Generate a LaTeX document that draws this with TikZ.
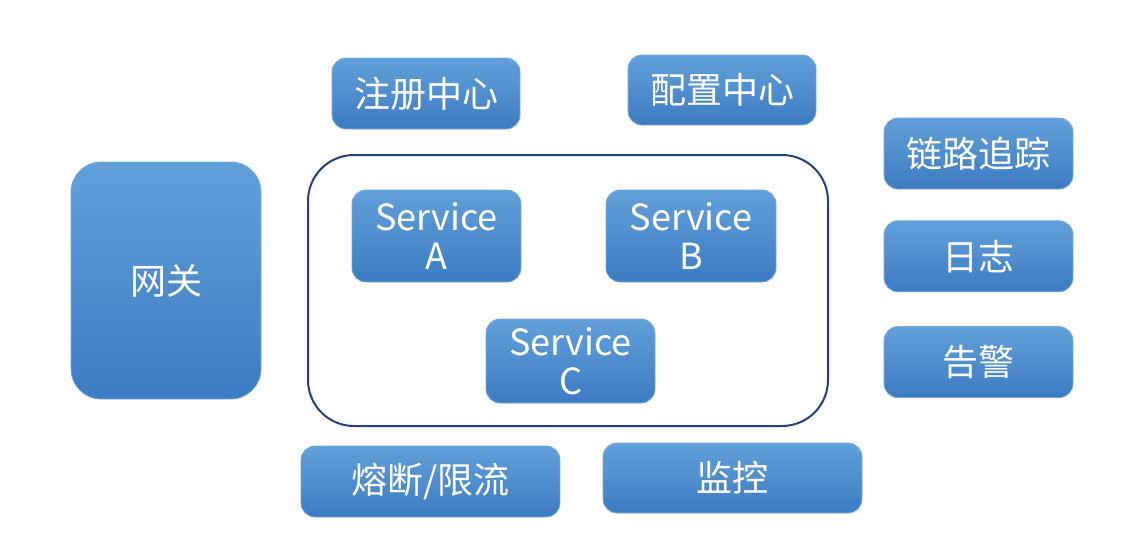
\documentclass[tikz,border=0pt]{standalone}
\usepackage{fontspec}
\setmainfont{Noto Sans CJK SC}
\usepackage{tikz}
\usetikzlibrary{positioning}
\definecolor{MSTop}{HTML}{62A0DA}
\definecolor{MSBottom}{HTML}{3D7BC2}
\definecolor{MSEdge}{HTML}{78A8DC}
\definecolor{MSFrame}{HTML}{233F80}

\begin{document}
\begin{tikzpicture}[
  x=1pt, y=-1pt,
  box/.style={draw=MSEdge, line width=0.8pt, top color=MSTop, bottom color=MSBottom, rounded corners=14pt, inner sep=0pt, align=center, text=white, font=\fontsize{36}{39}\selectfont},
  frame/.style={draw=MSFrame, line width=2pt, rounded corners=46pt, inner sep=0pt}
]
\useasboundingbox (0,0) rectangle (1131,539);
\node[box, rounded corners=30pt, minimum width=190pt, minimum height=237pt] (gw) at (166,280.5) {网关};
\node[box, minimum width=188pt, minimum height=71pt] (reg) at (426,93.5) {注册中心};
\node[box, minimum width=188pt, minimum height=70pt] (cfg) at (722,90) {配置中心};
\node[frame, minimum width=520pt, minimum height=271pt] (svc) at (568,290.5) {};
\node[box, minimum width=169pt, minimum height=92pt] (svcA) at (436.5,236) {Service\\A};
\node[box, minimum width=170pt, minimum height=92pt] (svcB) at (691,236) {Service\\B};
\node[box, minimum width=169pt, minimum height=84pt] (svcC) at (570.5,361) {Service\\C};
\node[box, minimum width=189pt, minimum height=71pt] (trace) at (978.5,153.5) {链路追踪};
\node[box, minimum width=189pt, minimum height=71pt, below=31pt of trace] (log) {日志};
\node[box, minimum width=189pt, minimum height=71pt, below=34pt of log] (alarm) {告警};
\node[box, minimum width=259pt, minimum height=71pt] (fuse) at (430.5,481.5) {熔断/限流};
\node[box, minimum width=259pt, minimum height=70pt] (mon) at (732.5,478) {监控};
\end{tikzpicture}
\end{document}
